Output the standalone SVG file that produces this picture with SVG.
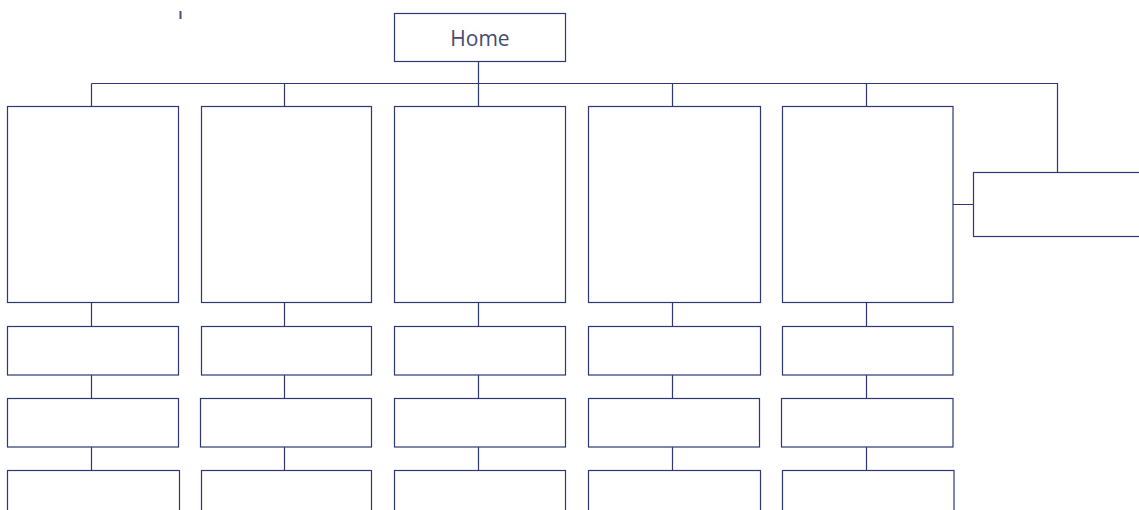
<svg xmlns="http://www.w3.org/2000/svg" width="1139" height="510" viewBox="0 0 1139 510">
<style>
.box{fill:#ffffff;stroke:#2e3873;stroke-width:1.2}
.ln{fill:none;stroke:#2e3873;stroke-width:1.2}
.lbl{font-family:"Open Sans","Noto Sans",sans-serif;font-size:21px;fill:#444b6e;text-anchor:middle}
</style>
<rect width="1139" height="510" fill="#ffffff"/>
<line x1="180.5" y1="11" x2="180.5" y2="19" stroke="#4a5078" stroke-width="2"/>
<g id="connectors">
<path class="ln" d="M478.5 61.5V106.5M91.5 83.5H1057.5V172.5M91.5 83.5V106.5M284.5 83.5V106.5M672.5 83.5V106.5M866.5 83.5V106.5M953 204.5H973.5"/>
<path class="ln" d="M91.5 302.5V326.5M91.5 375V398.5M91.5 447V470.5"/>
<path class="ln" d="M284.5 302.5V326.5M284.5 375V398.5M284.5 447V470.5"/>
<path class="ln" d="M478.5 302.5V326.5M478.5 375V398.5M478.5 447V470.5"/>
<path class="ln" d="M672.5 302.5V326.5M672.5 375V398.5M672.5 447V470.5"/>
<path class="ln" d="M866.5 302.5V326.5M866.5 375V398.5M866.5 447V470.5"/>
</g>
<g id="home"><rect class="box" x="394.5" y="13.5" width="171" height="48"/><text class="lbl" x="480" y="45.5">Home</text></g>
<g id="col1">
<rect class="box" x="7.5" y="106.5" width="171" height="196"/>
<rect class="box" x="7.5" y="326.5" width="171" height="48.5"/>
<rect class="box" x="7.5" y="398.5" width="171" height="48.5"/>
<rect class="box" x="7.5" y="470.5" width="172" height="60"/>
</g>
<g id="col2">
<rect class="box" x="201.5" y="106.5" width="170" height="196"/>
<rect class="box" x="201.5" y="326.5" width="170" height="48.5"/>
<rect class="box" x="200.5" y="398.5" width="171" height="48.5"/>
<rect class="box" x="201.5" y="470.5" width="170" height="60"/>
</g>
<g id="col3">
<rect class="box" x="394.5" y="106.5" width="171" height="196"/>
<rect class="box" x="394.5" y="326.5" width="171" height="48.5"/>
<rect class="box" x="394.5" y="398.5" width="171" height="48.5"/>
<rect class="box" x="394.5" y="470.5" width="171" height="60"/>
</g>
<g id="col4">
<rect class="box" x="588.5" y="106.5" width="172" height="196"/>
<rect class="box" x="588.5" y="326.5" width="172" height="48.5"/>
<rect class="box" x="588.5" y="398.5" width="171" height="48.5"/>
<rect class="box" x="588.5" y="470.5" width="172" height="60"/>
</g>
<g id="col5">
<rect class="box" x="782.5" y="106.5" width="170.5" height="196"/>
<rect class="box" x="782.5" y="326.5" width="170.5" height="48.5"/>
<rect class="box" x="781.5" y="398.5" width="171.5" height="48.5"/>
<rect class="box" x="782.5" y="470.5" width="171.5" height="60"/>
</g>
<g id="side"><rect class="box" x="973.5" y="172.5" width="180" height="64"/></g>
</svg>
